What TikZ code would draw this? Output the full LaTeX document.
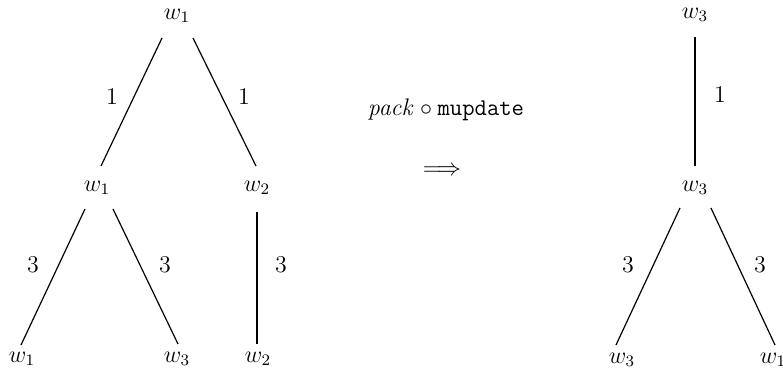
\documentclass[tikz,border=0pt]{standalone}
\usetikzlibrary{calc}
\begin{document}
\begin{tikzpicture}[x=0.5pt,y=-0.5pt,
  lbl/.style={font=\fontsize{12}{14}\selectfont,inner sep=0pt},
  edge/.style={line width=0.6pt}]
\useasboundingbox (0,0) rectangle (783,375);
% left tree
\node[lbl] (t1) at (177,16) {$w_1$};
\node[lbl] (m1) at (97,188) {$w_1$};
\node[lbl] (m2) at (257,188) {$w_2$};
\node[lbl] (b1) at (22,359) {$w_1$};
\node[lbl] (b3) at (177,359) {$w_3$};
\node[lbl] (b2) at (258,359) {$w_2$};
\draw[edge] ($(t1)+(-15,22)$) -- ($(m1)+(4,-22)$);
\draw[edge] ($(t1)+(16,22)$) -- ($(m2)+(-1,-22)$);
\draw[edge] ($(m1)+(-12,21)$) -- ($(b1)+(-1,-14)$);
\draw[edge] ($(m1)+(16,21)$) -- ($(b3)+(1,-15)$);
\draw[edge] ($(m2)+(0,24)$) -- ($(b2)+(-1,-15)$);
\node[lbl] (l1) at (112,97) {$1$};
\node[lbl] (l2) at (244,97) {$1$};
\node[lbl] (l3) at (33,265) {$3$};
\node[lbl] (l4) at (165,265) {$3$};
\node[lbl] (l5) at (281,265) {$3$};
% middle
\node[lbl] (op) at (446,110) {$\mathit{pack}\circ\texttt{mupdate}$};
\node[lbl] (ar) at (442,171) {$\Longrightarrow$};
% right tree
\node[lbl] (r1) at (695,15) {$w_3$};
\node[lbl] (r2) at (695,188) {$w_3$};
\node[lbl] (r3) at (622,360) {$w_3$};
\node[lbl] (r4) at (773,360) {$w_1$};
\draw[edge] ($(r1)+(0,22)$) -- ($(r2)+(0,-22)$);
\draw[edge] ($(r2)+(-15,20)$) -- ($(r3)+(-6,-15)$);
\draw[edge] ($(r2)+(16,20)$) -- ($(r4)+(2,-15)$);
\node[lbl] (k1) at (720,95) {$1$};
\node[lbl] (k2) at (628,265) {$3$};
\node[lbl] (k3) at (760,265) {$3$};
\end{tikzpicture}
\end{document}
